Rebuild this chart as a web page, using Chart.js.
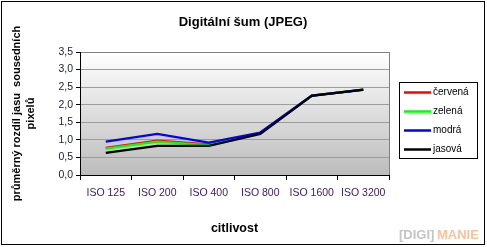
<!DOCTYPE html>
<html lang="cs">
<head>
<meta charset="UTF-8">
<title>Digitální šum (JPEG)</title>
<script src="https://cdn.jsdelivr.net/npm/chart.js"></script>
<style>
  html, body { margin: 0; padding: 0; background: #fff; }
  #wrap { width: 487px; height: 247px; }
</style>
</head>
<body>
<div id="wrap"><canvas id="chart" width="487" height="247"></canvas></div>
<script>
const categories = ['ISO 125', 'ISO 200', 'ISO 400', 'ISO 800', 'ISO 1600', 'ISO 3200'];
const seriesNames = ['červená', 'zelená', 'modrá', 'jasová'];
const seriesColors = ['#ff0000', '#00ff00', '#0000ff', '#000000'];
const cervena = [0.77, 0.98, 0.87, 1.19, 2.26, 2.43];
const zelena  = [0.75, 0.95, 0.85, 1.19, 2.26, 2.43];
const modra   = [0.95, 1.17, 0.92, 1.21, 2.26, 2.42];
const jasova  = [0.63, 0.83, 0.83, 1.17, 2.25, 2.43];
const seriesValues = [cervena, zelena, modra, jasova];
const drawOrder = [3, 2, 1, 0]; // black on top

const fontFamily = "'Liberation Sans', Arial, sans-serif";

// background, frame, title, legend, watermark
const decor = {
  id: 'decor',
  beforeDraw(chart) {
    const { ctx, chartArea: a } = chart;
    ctx.save();
    ctx.fillStyle = '#fff';
    ctx.fillRect(0, 0, chart.width, chart.height);
    const g = ctx.createLinearGradient(0, a.top, 0, a.bottom);
    g.addColorStop(0, '#ffffff');
    g.addColorStop(1, '#bcbcbc');
    ctx.fillStyle = g;
    ctx.fillRect(a.left, a.top, a.right - a.left, a.bottom - a.top);
    ctx.restore();
  },
  afterDraw(chart) {
    const { ctx, chartArea: a } = chart;
    ctx.save();
    // plot area border (right side)
    ctx.strokeStyle = '#808080';
    ctx.lineWidth = 1;
    ctx.beginPath();
    ctx.moveTo(a.right + 0.5, a.top);
    ctx.lineTo(a.right + 0.5, a.bottom);
    ctx.stroke();

    // outer frame
    ctx.strokeStyle = '#000';
    ctx.strokeRect(1.5, 1.5, 483, 243);

    // title
    ctx.fillStyle = '#000';
    ctx.font = 'bold 13px ' + fontFamily;
    ctx.textAlign = 'center';
    ctx.textBaseline = 'middle';
    ctx.fillText('Digitální šum (JPEG)', 243, 22);

    // legend
    const lx = 399, ly = 82, lw = 78, lh = 76;
    ctx.fillStyle = '#fff';
    ctx.fillRect(lx, ly, lw, lh);
    ctx.strokeStyle = '#000';
    ctx.strokeRect(lx + 0.5, ly + 0.5, lw, lh);
    ctx.font = '10px ' + fontFamily;
    ctx.textAlign = 'left';
    seriesNames.forEach((name, i) => {
      const y = 92.5 + i * 19;
      ctx.strokeStyle = seriesColors[i];
      ctx.lineWidth = 2.5;
      ctx.beginPath();
      ctx.moveTo(404, y);
      ctx.lineTo(431, y);
      ctx.stroke();
      ctx.fillStyle = '#000';
      ctx.fillText(name, 433, y);
    });

    // watermark
    ctx.font = 'bold 13px ' + fontFamily;
    ctx.textBaseline = 'middle';
    ctx.fillStyle = '#c4c4c4';
    ctx.fillText('[DIGI]', 399, 235);
    ctx.fillStyle = '#f6c39a';
    ctx.fillText('MANIE', 437, 235);
    ctx.restore();
  }
};

new Chart(document.getElementById('chart'), {
  type: 'line',
  data: {
    labels: categories,
    datasets: seriesNames.map((name, i) => ({
      label: name,
      data: seriesValues[i],
      borderColor: seriesColors[i],
      backgroundColor: seriesColors[i],
      borderWidth: 2.2,
      pointRadius: 0,
      tension: 0,
      order: drawOrder[i]
    }))
  },
  plugins: [decor],
  options: {
    responsive: false,
    animation: false,
    layout: { padding: { top: 52, left: 0, right: 98, bottom: 0 } },
    plugins: {
      legend: { display: false },
      title: { display: false },
      tooltip: { enabled: false }
    },
    scales: {
      x: {
        offset: true,
        grid: {
          offset: true,
          drawOnChartArea: false,
          drawTicks: true,
          tickLength: 5,
          tickColor: '#000'
        },
        border: { color: '#000', width: 1 },
        ticks: {
          padding: 7,
          color: '#3a1a5a',
          font: { family: fontFamily, size: 10.5 },
          maxRotation: 0,
          autoSkip: false
        },
        title: {
          display: true,
          text: 'citlivost',
          color: '#000',
          font: { family: fontFamily, size: 12.5, weight: 'bold' },
          padding: { top: 0, bottom: 11 }
        },
        afterFit(scale) { scale.height = 72; }
      },
      y: {
        min: 0,
        max: 3.5,
        ticks: {
          stepSize: 0.5,
          padding: 3,
          color: '#1a1a3a',
          font: { family: fontFamily, size: 10.5 },
          callback: v => v.toFixed(1).replace('.', ',')
        },
        grid: {
          color: ctx => ctx.tick && ctx.tick.value === 3.5 ? '#808080' : '#9c9c9c',
          tickColor: '#000',
          tickLength: 4,
          lineWidth: 1
        },
        border: { color: '#000', width: 1 },
        title: {
          display: true,
          text: ['průměrný rozdíl jasu  sousedních', 'pixelů'],
          color: '#000',
          font: { family: fontFamily, size: 11, weight: 'bold', lineHeight: 1.25 },
          padding: { top: 10, bottom: 0 }
        },
        afterFit(scale) { scale.width = 80; }
      }
    }
  }
});
</script>
</body>
</html>
